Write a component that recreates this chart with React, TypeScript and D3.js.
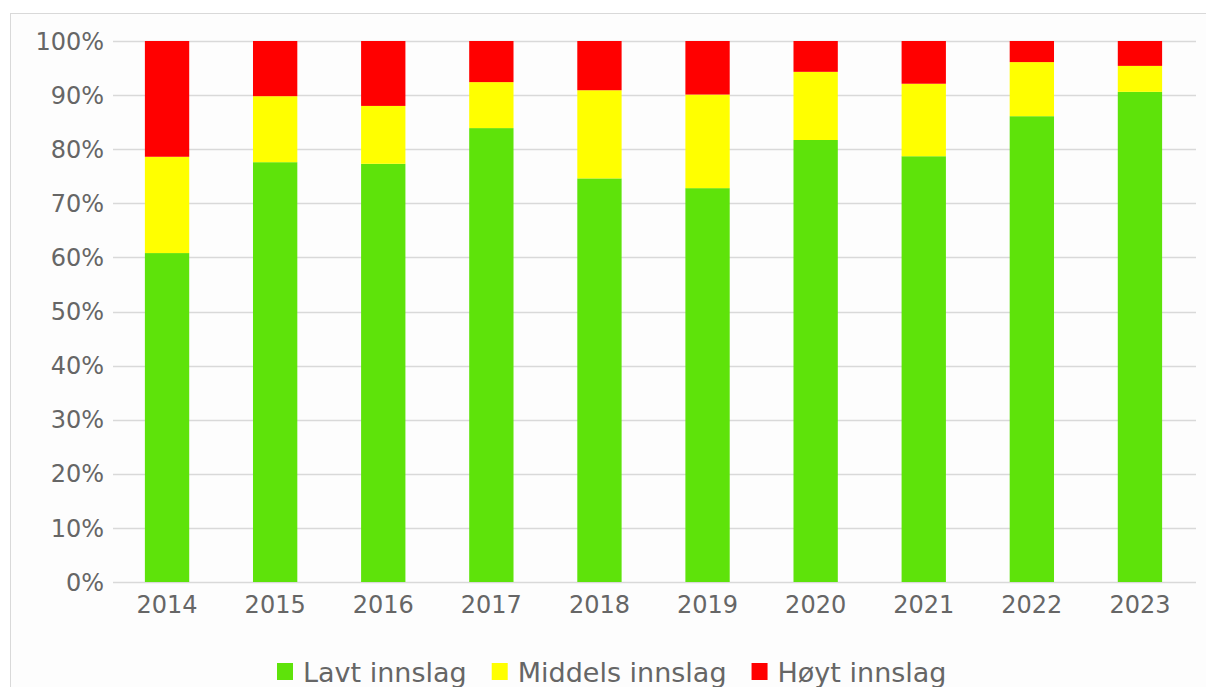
import React, { useEffect, useRef } from 'react';
import * as d3 from 'd3';

// Andel innslag per år (prosent), lest av figuren
const years = ['2014', '2015', '2016', '2017', '2018', '2019', '2020', '2021', '2022', '2023'];
const lavt = [60.8, 77.6, 77.3, 83.9, 74.6, 72.8, 81.7, 78.7, 86.1, 90.6];
const middels = [17.8, 12.2, 10.7, 8.5, 16.3, 17.3, 12.6, 13.4, 10.0, 4.8];
const hoyt = [21.4, 10.2, 12.0, 7.6, 9.1, 9.9, 5.7, 7.9, 3.9, 4.6];

const seriesNames = ['Lavt innslag', 'Middels innslag', 'Høyt innslag'];
const seriesColors = ['#5ee30a', '#ffff00', '#ff0000'];
const yTicks = [0, 10, 20, 30, 40, 50, 60, 70, 80, 90, 100];

const W = 1206;
const H = 687;
const FONT = '"DejaVu Sans", sans-serif';

const App = () => {
  const svgRef = useRef<SVGSVGElement>(null);

  useEffect(() => {
    const svg = d3.select(svgRef.current);
    svg.selectAll('*').remove();

    const margin = { top: 41, right: 10, bottom: 105, left: 113 };
    const plotRight = 1196;

    // frame around the chart
    svg.append('rect')
      .attr('x', 10.5).attr('y', 13.5)
      .attr('width', W).attr('height', H)
      .attr('fill', '#fdfdfd')
      .attr('stroke', '#d9d9d9');

    const table = years.map((year, i) => ({ year, lavt: lavt[i], middels: middels[i], hoyt: hoyt[i] }));
    const stack = d3.stack<any>().keys(['lavt', 'middels', 'hoyt'])(table);

    const x = d3.scaleBand()
      .domain(years)
      .range([margin.left, 1194])
      .paddingInner(0.59)
      .paddingOuter(0.295);

    const y = d3.scaleLinear()
      .domain([0, 100])
      .range([H - margin.bottom, margin.top]);

    // gridlines
    svg.append('g')
      .selectAll('line')
      .data(yTicks)
      .enter()
      .append('line')
      .attr('x1', margin.left).attr('x2', plotRight)
      .attr('y1', d => Math.round(y(d)) + 0.5).attr('y2', d => Math.round(y(d)) + 0.5)
      .attr('stroke', '#d9d9d9')
      .attr('stroke-width', 1.5);

    // y labels
    svg.append('g')
      .selectAll('text')
      .data(yTicks)
      .enter()
      .append('text')
      .attr('x', 104)
      .attr('y', d => y(d))
      .attr('dy', '0.36em')
      .attr('text-anchor', 'end')
      .attr('fill', '#666')
      .style('font-family', FONT)
      .style('font-size', '24px')
      .text(d => `${d}%`);

    // bars
    svg.append('g')
      .selectAll('g')
      .data(stack)
      .enter()
      .append('g')
      .attr('fill', (_, i) => seriesColors[i])
      .selectAll('rect')
      .data(d => d)
      .enter()
      .append('rect')
      .attr('x', d => x(d.data.year)!)
      .attr('y', d => y(d[1]))
      .attr('width', x.bandwidth())
      .attr('height', d => y(d[0]) - y(d[1]));

    // x labels
    svg.append('g')
      .selectAll('text')
      .data(years)
      .enter()
      .append('text')
      .attr('x', d => x(d)! + x.bandwidth() / 2)
      .attr('y', 613)
      .attr('text-anchor', 'middle')
      .attr('fill', '#666')
      .style('font-family', FONT)
      .style('font-size', '24px')
      .text(d => d);

    // legend
    const legend = svg.append('g');
    let cx = 277;
    seriesNames.forEach((name, i) => {
      legend.append('rect')
        .attr('x', cx).attr('y', 663)
        .attr('width', 16).attr('height', 17)
        .attr('fill', seriesColors[i]);
      const t = legend.append('text')
        .attr('x', cx + 26)
        .attr('y', 682)
        .attr('fill', '#666')
        .style('font-family', FONT)
        .style('font-size', '27px')
        .text(name);
      const tw = (t.node() as SVGTextElement).getComputedTextLength();
      cx += 26 + tw + 25;
    });
  }, []);

  return (
    <svg ref={svgRef} width={W} height={H}
      style={{ position: 'absolute', left: 0, top: 0, background: '#fff' }} />
  );
};

export default App;
